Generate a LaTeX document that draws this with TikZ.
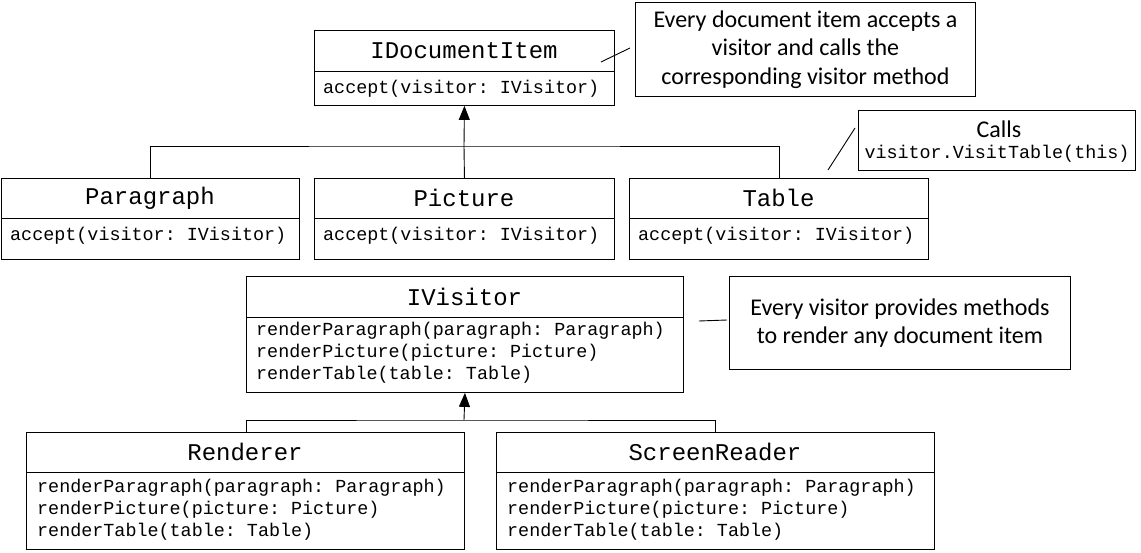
\documentclass[tikz,border=0pt]{standalone}
\usepackage{fontspec}
\setmainfont{Carlito}
\setmonofont{Liberation Mono}
\usetikzlibrary{arrows.meta}
\begin{document}
\begin{tikzpicture}[x=1pt,y=-1pt,
  box/.style={draw,line width=0.9pt,inner sep=0pt,anchor=north west},
  ttl/.style={font=\ttfamily\fontsize{24}{26}\selectfont,anchor=center},
  body/.style={font=\ttfamily\fontsize{18.4}{22}\selectfont,anchor=north west,align=left,inner sep=0pt},
  note/.style={draw,line width=0.9pt,inner sep=0pt,anchor=north west},
  ntxt/.style={font=\fontsize{24}{28.5}\selectfont,align=center},
  conn/.style={line width=0.9pt},
  inh/.style={line width=0.9pt,-{Triangle[length=14pt,width=11pt]}}]
\useasboundingbox (0,0) rectangle (1141,553);
\newcommand\umlclass[7]{% name, x1,y1,x2,y2,ydiv, title
  \node[box,minimum width={#4-#2},minimum height={#5-#3}] (#1) at (#2,#3) {};
  \draw[line width=0.9pt] (#2,#6) -- (#4,#6);
  \node[ttl] (#1t) at ({(#2+#4)/2},{(#3+#6)/2}) {#7};}
\umlclass{doc}{314}{30}{614}{105}{71}{IDocumentItem}
\node[body] (docb) at (323,80) {accept(visitor: IVisitor)};
\umlclass{par}{1}{178}{299}{259}{218}{Paragraph}
\node[body] (parb) at (10,227) {accept(visitor: IVisitor)};
\umlclass{pic}{314}{178}{614}{259}{218}{Picture}
\node[body] (picb) at (323,227) {accept(visitor: IVisitor)};
\umlclass{tab}{629}{178}{928}{259}{218}{Table}
\node[body] (tabb) at (638,227) {accept(visitor: IVisitor)};
\umlclass{vis}{246}{276}{683}{392}{317}{IVisitor}
\node[body] (visb) at (256,322) {renderParagraph(paragraph: Paragraph)\\renderPicture(picture: Picture)\\renderTable(table: Table)};
\umlclass{ren}{26}{432}{464}{549}{472}{Renderer}
\node[body] (renb) at (37,479) {renderParagraph(paragraph: Paragraph)\\renderPicture(picture: Picture)\\renderTable(table: Table)};
\umlclass{scr}{496}{432}{934}{549}{472}{ScreenReader}
\node[body] (scrb) at (507,479) {renderParagraph(paragraph: Paragraph)\\renderPicture(picture: Picture)\\renderTable(table: Table)};
% notes
\node[note,minimum width=340,minimum height=94] (n1) at (635,2) {};
\node[ntxt] (n1t) at (n1.center) {Every document item accepts a\\visitor and calls the\\corresponding visitor method};
\node[note,minimum width=277,minimum height=60] (n2) at (858,110) {};
\node[ntxt] (n2a) at (999,129) {Calls};
\node[body,anchor=center] (n2b) at (997,154) {visitor.VisitTable(this)};
\node[note,minimum width=341,minimum height=93] (n3) at (729,276) {};
\node[ntxt] (n3t) at (n3.center) {Every visitor provides methods\\to render any document item};
% note connectors
\coordinate (c1) at (601,62); \coordinate (c2) at (828,170); \coordinate (c3) at (699,321);
\draw[conn] (c1) -- (630,48);
\draw[conn] (c2) -- (855,128);
\draw[conn] (c3) -- (727,320);
% inheritance
\coordinate (j1) at (464,146);
\draw[conn] (par.north) |- (j1) -| (tab.north);
\draw[conn] (pic.north) -- (j1);
\draw[inh] (j1) -- (doc.south);
\coordinate (j2) at (464,420);
\draw[conn] (246,432) |- (j2) -| (715,432);
\draw[inh] (j2) -- (vis.south);
\end{tikzpicture}
\end{document}
